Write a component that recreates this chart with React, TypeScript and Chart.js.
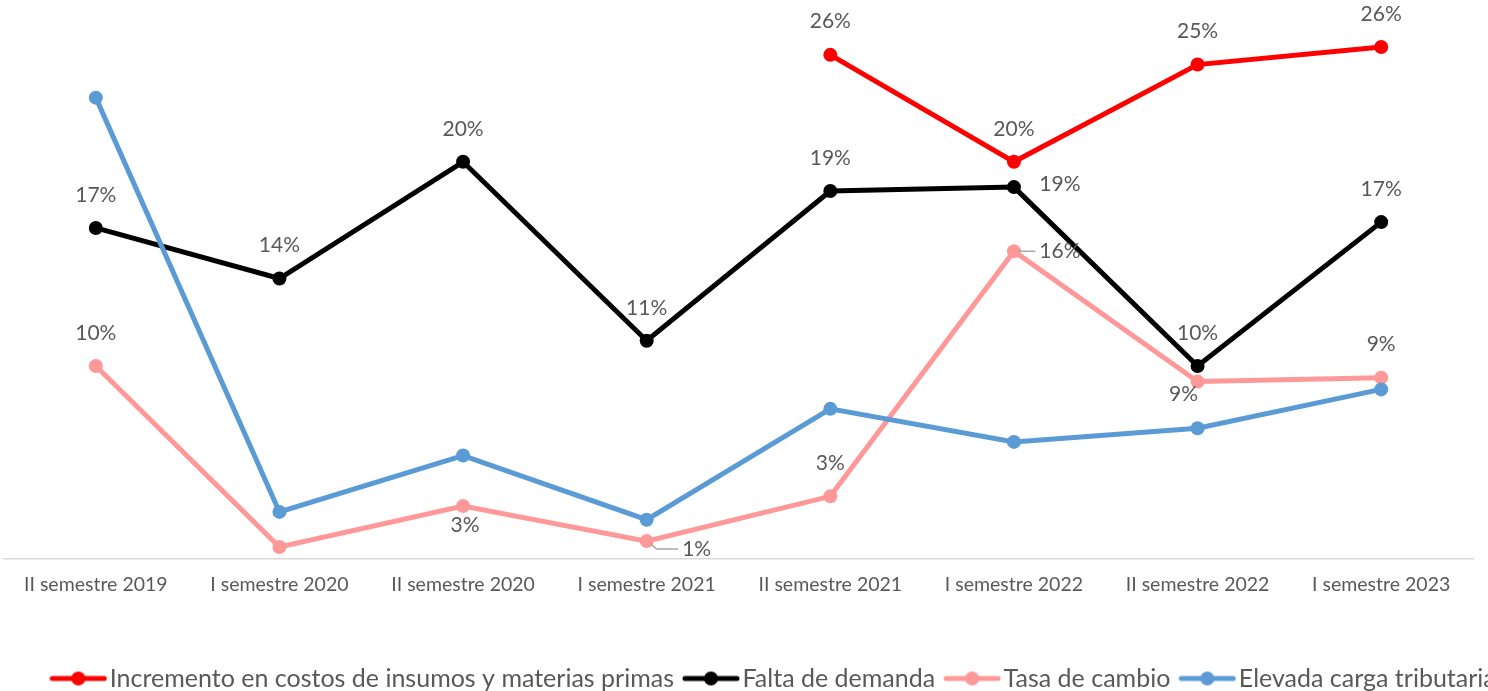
import React, { useEffect, useRef } from "react";
import { Chart, registerables } from "chart.js";

Chart.register(...registerables);

const categories = [
  "II semestre 2019",
  "I semestre 2020",
  "II semestre 2020",
  "I semestre 2021",
  "II semestre 2021",
  "I semestre 2022",
  "II semestre 2022",
  "I semestre 2023",
];

const seriesNames = [
  "Incremento en costos de insumos y materias primas",
  "Falta de demanda",
  "Tasa de cambio",
  "Elevada carga tributaria",
];

const incrementoCostos = [null, null, null, null, 25.9, 20.4, 25.4, 26.3];
const faltaDemanda = [17.0, 14.4, 20.4, 11.2, 18.9, 19.1, 9.9, 17.3];
const tasaCambio = [9.9, 0.6, 2.7, 0.9, 3.2, 15.8, 9.1, 9.3];
const cargaTributaria = [23.7, 2.4, 5.3, 2.0, 7.7, 6.0, 6.7, 8.7];

// label placement per point: [dx, dy] offset of the label centre from the point, null = no label
const placeIncremento = [null, null, null, null, [0, -34], [0, -33], [0, -33], [0, -33]];
const placeFalta = [[0, -33], [0, -33], [0, -33], [0, -33], [0, -33], [46, -3], [0, -33], [0, -33]];
const placeTasa = [[0, -33], null, [2, 19], [50, 8], [0, -33], [46, 0], [-14, 13], [0, -33]];
const placeCarga = [null, null, null, null, null, null, null, null];
// leader lines for specific labels: [seriesIndex, pointIndex]
const leaderLines = [[2, 3], [2, 5]];

const colors = ["#FF0000", "#000000", "#FF9999", "#5B9BD5"];
const FONT = "Lato, 'Open Sans', sans-serif";
const TEXT = "#595959";

function legendIcon(color: string) {
  const c = document.createElement("canvas");
  c.width = 58;
  c.height = 16;
  const ctx = c.getContext("2d")!;
  ctx.strokeStyle = color;
  ctx.lineWidth = 5;
  ctx.lineCap = "round";
  ctx.beginPath();
  ctx.moveTo(3, 8);
  ctx.lineTo(55, 8);
  ctx.stroke();
  ctx.fillStyle = color;
  ctx.beginPath();
  ctx.arc(29, 8, 7, 0, Math.PI * 2);
  ctx.fill();
  return c;
}

export default function App() {
  const ref = useRef<HTMLCanvasElement>(null);

  useEffect(() => {
    const places = [placeIncremento, placeFalta, placeTasa, placeCarga];
    const icons = colors.map(legendIcon);
    const labelPlugin = {
      id: "pointLabels",
      afterDatasetsDraw(chart: any) {
        const ctx = chart.ctx;
        ctx.save();
        ctx.font = `21px ${FONT}`;
        ctx.fillStyle = TEXT;
        ctx.textAlign = "center";
        ctx.textBaseline = "middle";
        chart.data.datasets.forEach((ds: any, di: number) => {
          const meta = chart.getDatasetMeta(di);
          ds.data.forEach((v: number | null, i: number) => {
            const p = places[di][i];
            if (v == null || !p) return;
            const pt = meta.data[i];
            const lx = pt.x + p[0];
            const ly = pt.y + p[1];
            const isLeader = leaderLines.some((l) => l[0] === di && l[1] === i);
            if (isLeader) {
              const w = ctx.measureText(`${Math.round(v)}%`).width;
              ctx.strokeStyle = "#A6A6A6";
              ctx.lineWidth = 1.5;
              ctx.beginPath();
              ctx.moveTo(pt.x + 4, pt.y + (p[1] > 2 ? 3 : 0));
              ctx.lineTo(pt.x + 10, ly);
              ctx.lineTo(lx - w / 2 - 4, ly);
              ctx.stroke();
            }
            ctx.fillText(`${Math.round(v)}%`, lx, ly);
          });
        });
        ctx.restore();
      },
    };
    const legendShift = {
      id: "legendShift",
      afterLayout(chart: any) {
        if (chart.legend) {
          chart.legend.left += 43;
          chart.legend.right += 43;
        }
      },
    };

    const seriesData = [incrementoCostos, faltaDemanda, tasaCambio, cargaTributaria];
    const chart = new Chart(ref.current!, {
      type: "line",
      data: {
        labels: categories,
        datasets: seriesData.map((d, i) => ({
          label: seriesNames[i],
          data: d,
          borderColor: colors[i],
          backgroundColor: colors[i],
          pointBackgroundColor: colors[i],
          pointBorderColor: colors[i],
          borderWidth: 5,
          pointRadius: 7,
          pointBorderWidth: 0,
          tension: 0,
          spanGaps: false,
          order: 4 - i,
        })),
      },
      options: {
        animation: false,
        responsive: true,
        maintainAspectRatio: false,
        layout: { padding: { top: 14, left: -1, right: 15, bottom: -10 } },
        plugins: {
          tooltip: { enabled: false },
          legend: {
            position: "bottom",
            labels: {
              usePointStyle: true,
              pointStyleWidth: 38,
              padding: 18,
              color: TEXT,
              font: { family: FONT, size: 25 },
              generateLabels: (chart: any) =>
                chart.data.datasets.map((ds: any, i: number) => ({
                  text: ds.label,
                  pointStyle: icons[i],
                  fillStyle: colors[i],
                  strokeStyle: colors[i],
                  fontColor: TEXT,
                  lineWidth: 0,
                  hidden: false,
                  datasetIndex: i,
                })),
            },
          },
        },
        scales: {
          x: {
            offset: true,
            grid: { display: false },
            border: { display: true, color: "#D9D9D9", width: 1.5 },
            ticks: { color: TEXT, font: { family: FONT, size: 19.5 }, padding: 6, maxRotation: 0 },
            afterFit: (scale: any) => {
              scale.height += 46;
            },
          },
          y: {
            display: false,
            min: 0,
            max: 28,
          },
        },
      },
      plugins: [labelPlugin, legendShift],
    });
    return () => chart.destroy();
  }, []);

  return (
    <div style={{ position: "fixed", left: -3, top: 0, width: 1491, height: 691, background: "#fff", overflow: "hidden" }}>
      <canvas ref={ref} />
    </div>
  );
}
